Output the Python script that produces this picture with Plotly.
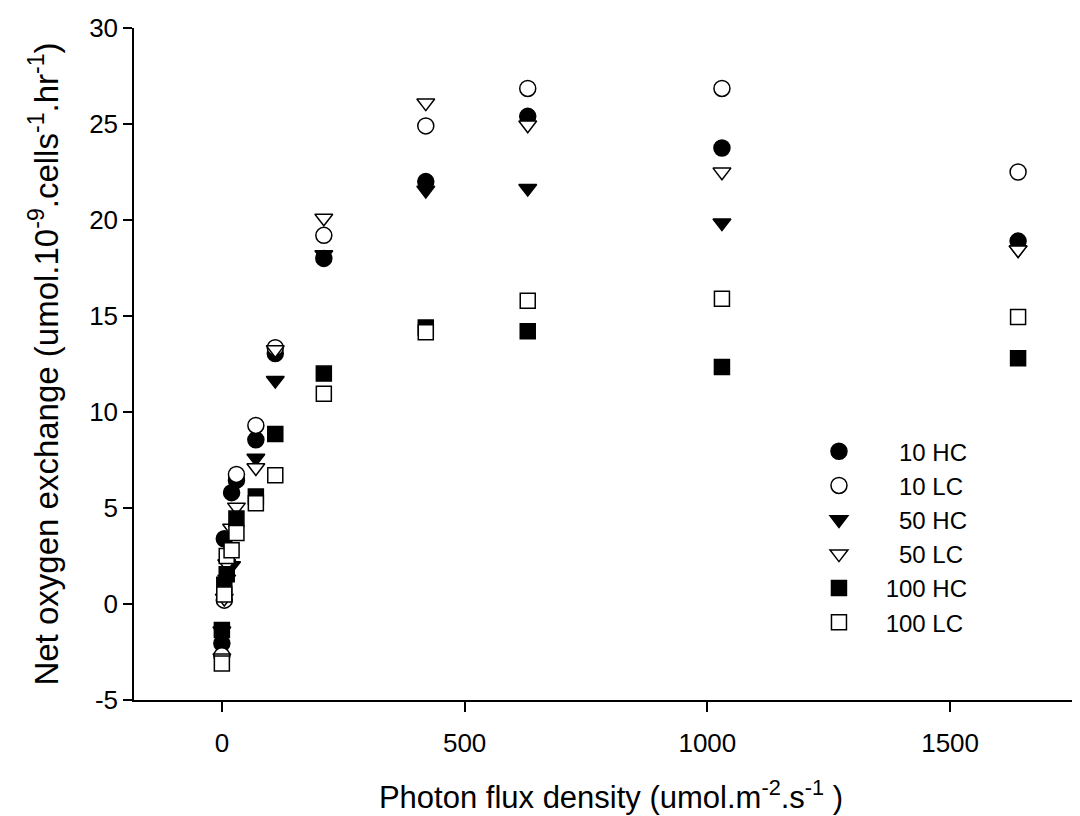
import plotly.graph_objects as go

# ---- data ----
x_10hc = [0, 5, 20, 30, 70, 110, 210, 420, 630, 1030, 1640]
y_10hc = [-2.05, 3.4, 5.8, 6.45, 8.55, 13.05, 18.0, 22.0, 25.4, 23.75, 18.9]

x_10lc = [0, 5, 30, 70, 110, 210, 420, 630, 1030, 1640]
y_10lc = [-2.7, 0.2, 6.75, 9.3, 13.35, 19.2, 24.9, 26.85, 26.85, 22.5]

x_50hc = [0, 10, 20, 70, 110, 210, 420, 630, 1030, 1640]
y_50hc = [-1.4, 1.3, 2.0, 7.6, 11.65, 18.2, 21.55, 21.65, 19.85, 18.45]

x_50lc = [0, 5, 10, 20, 30, 70, 110, 210, 420, 630, 1030, 1640]
y_50lc = [-2.8, 0.3, 2.1, 3.95, 5.05, 7.1, 13.25, 20.1, 26.1, 24.95, 22.5, 18.45]

x_100hc = [0, 5, 10, 30, 70, 110, 210, 420, 630, 1030, 1640]
y_100hc = [-1.35, 1.0, 1.55, 4.45, 5.6, 8.85, 12.0, 14.4, 14.2, 12.35, 12.8]

x_100lc = [0, 5, 10, 20, 30, 70, 110, 210, 420, 630, 1030, 1640]
y_100lc = [-3.1, 0.5, 2.5, 2.8, 3.7, 5.25, 6.7, 10.95, 14.15, 15.8, 15.9, 14.95]

names = ["10 HC", "10 LC", "50 HC", "50 LC", "100 HC", "100 LC"]
x_ticks = [0, 500, 1000, 1500]
y_ticks = [-5, 0, 5, 10, 15, 20, 25, 30]

FONT = "Arial, Liberation Sans, sans-serif"
NB = "\u00a0"

series = [
    (x_10hc, y_10hc, "circle", "black", 16, NB * 6 + names[0]),
    (x_10lc, y_10lc, "circle", "white", 16, NB * 6 + names[1]),
    (x_50hc, y_50hc, "triangle-down", "black", 15.5, NB * 6 + names[2]),
    (x_50lc, y_50lc, "triangle-down", "white", 15.5, NB * 6 + names[3]),
    (x_100hc, y_100hc, "square", "black", 15, NB * 4 + names[4]),
    (x_100lc, y_100lc, "square", "white", 15, NB * 4 + names[5]),
]

fig = go.Figure()
for xs, ys, sym, fill, size, label in series:
    fig.add_trace(go.Scatter(
        x=xs, y=ys, mode="markers", name=label,
        marker=dict(symbol=sym, color=fill, size=size,
                    line=dict(color="black", width=1.5)),
    ))

fig.update_layout(
    width=1080, height=816,
    margin=dict(l=126, r=0, t=20, b=124, autoexpand=False),
    paper_bgcolor="white", plot_bgcolor="white",
    font=dict(family=FONT, size=26, color="black"),
    showlegend=True,
    legend=dict(
        xref="paper", yref="paper",
        x=0.718, y=0.403, xanchor="left", yanchor="top",
        bgcolor="rgba(0,0,0,0)", borderwidth=0,
        font=dict(family=FONT, size=24, color="black"),
        itemsizing="trace",
    ),
    xaxis=dict(
        range=[-181, 1784], tickvals=x_ticks, ticktext=[str(v) for v in x_ticks],
        showgrid=False, zeroline=False, showline=True, linecolor="black", linewidth=1.5,
        ticks="outside", ticklen=10, tickwidth=1.5, tickcolor="black",
        ticklabelstandoff=9,
        tickfont=dict(family=FONT, size=26, color="black"),
        title=dict(text="Photon flux density (umol.m<sup>-2</sup>.s<sup>-1</sup> )",
                   font=dict(family=FONT, size=31, color="black"), standoff=29),
    ),
    yaxis=dict(
        range=[-5, 30], tickvals=y_ticks, ticktext=[str(v) for v in y_ticks],
        showgrid=False, zeroline=False, showline=True, linecolor="black", linewidth=1.5,
        ticks="outside", ticklen=9, tickwidth=1.5, tickcolor="black",
        tickfont=dict(family=FONT, size=26, color="black"),
        title=dict(text="Net oxygen exchange (umol.10<sup>-9</sup>.cells<sup>-1</sup>.hr<sup>-1</sup>)",
                   font=dict(family=FONT, size=33, color="black"), standoff=21),
    ),
)

fig.write_html("out.html")
